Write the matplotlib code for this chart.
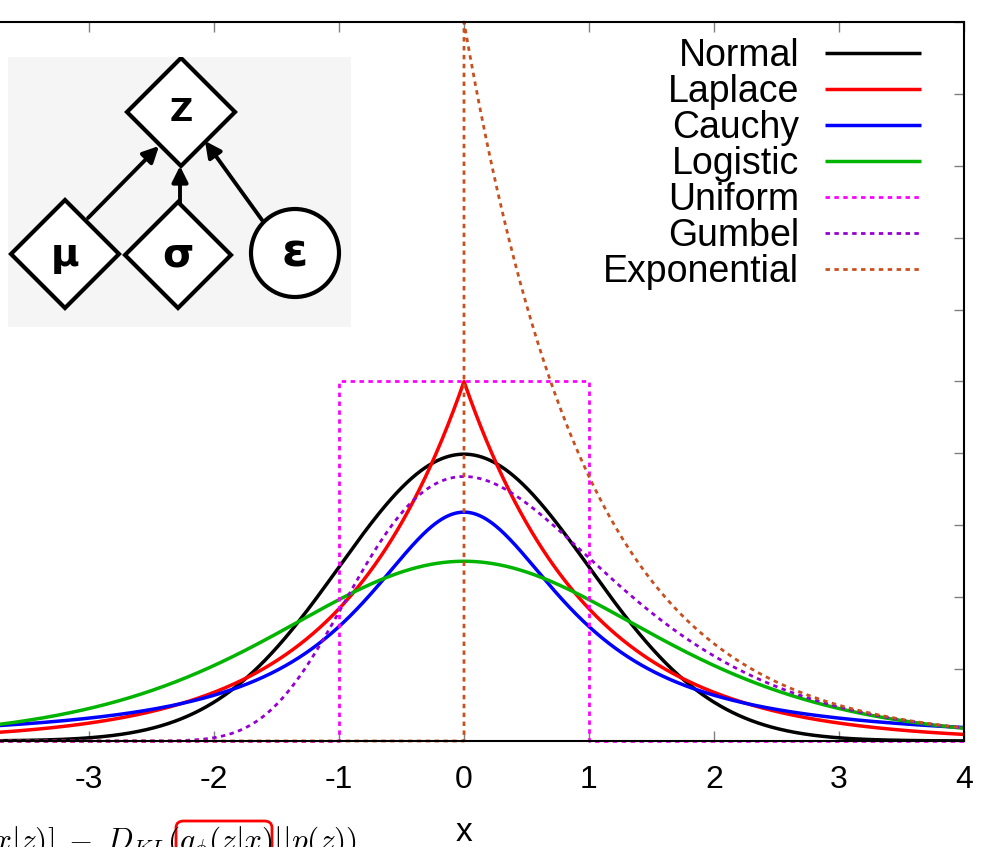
import numpy as np
import matplotlib
matplotlib.use("Agg")
import matplotlib.pyplot as plt
from matplotlib.patches import Polygon, Circle, FancyBboxPatch, FancyArrowPatch

plt.rcParams['font.family'] = ['Liberation Sans', 'DejaVu Sans']
plt.rcParams['axes.unicode_minus'] = False

# standard location/scale densities, all with location 0 and scale 1
names = ['Normal', 'Laplace', 'Cauchy', 'Logistic', 'Uniform', 'Gumbel', 'Exponential']
colors = ['black', '#ff0000', '#0000ff', '#00b400', '#ff00ff', '#9400d3', '#c8501e']
dashed = [False, False, False, False, True, True, True]

loc = 0.0
scale = 1.0
x_ticks = [-3, -2, -1, 0, 1, 2, 3, 4]
y_ticks = [0.0, 0.1, 0.2, 0.3, 0.4, 0.5, 0.6, 0.7, 0.8, 0.9, 1.0]

# uniform on [-1, 1]
unif_x = [-4, -1, -1, 1, 1, 4]
unif_y = [0, 0, 0.5, 0.5, 0, 0]

x = np.linspace(-4, 4, 1601)
z = (x - loc) / scale
pdfs = {
    'Normal': np.exp(-z**2 / 2) / np.sqrt(2 * np.pi),
    'Laplace': 0.5 * np.exp(-np.abs(z)),
    'Cauchy': 1.0 / (np.pi * (1 + z**2)),
    'Logistic': np.exp(-z) / (1 + np.exp(-z))**2,
    'Gumbel': np.exp(-(z + np.exp(-z))),
}
# exponential has a jump at 0, so repeat that point
xe = np.concatenate([x[x < 0], [0.0], x[x >= 0]])
ye = np.concatenate([np.zeros((x < 0).sum()), [0.0], np.exp(-x[x >= 0])])

W, H = 981, 847
fig = plt.figure(figsize=(W / 100, H / 100), dpi=100)

# main plot, x from -4..4 runs partly off the left edge
left_px, right_px, top_px, bot_px = -36, 964, 22, 741
ax = fig.add_axes([left_px / W, (H - bot_px) / H,
                   (right_px - left_px) / W, (bot_px - top_px) / H])

for name, c, d in zip(names, colors, dashed):
    if name == 'Uniform':
        xs, ys = unif_x, unif_y
    elif name == 'Exponential':
        xs, ys = xe, ye
    else:
        xs, ys = x, pdfs[name]
    if d:
        ax.plot(xs, ys, color=c, lw=2.0, dashes=(1.6, 1.6), label=name, clip_on=False)
    else:
        ax.plot(xs, ys, color=c, lw=2.5, label=name, solid_capstyle='butt')

ax.set_xlim(-4, 4)
ax.set_ylim(0, 1)
ax.set_xticks(x_ticks)
ax.set_yticks(y_ticks)
ax.tick_params(direction='in', length=7, width=1, color='#808080',
               top=True, right=True, labelsize=23, pad=17)
ax.tick_params(axis='y', labelleft=False)
for s in ax.spines.values():
    s.set_linewidth(1.5)
ax.set_xlabel('x', fontsize=24, labelpad=16)

leg = ax.legend(loc='upper right', bbox_to_anchor=(921 / W, 1 - 38 / H),
                bbox_transform=fig.transFigure, frameon=False, markerfirst=False,
                fontsize=27, handlelength=2.55, handletextpad=0.7,
                labelspacing=0.0, borderpad=0, borderaxespad=0)

# graphical model inset: z = mu + sigma * eps
ix0, ix1, iy0, iy1 = 8, 351, 57, 327
ins = fig.add_axes([ix0 / W, (H - iy1) / H, (ix1 - ix0) / W, (iy1 - iy0) / H])
ins.set_xlim(ix0, ix1)
ins.set_ylim(iy1, iy0)
ins.set_facecolor('#f5f5f5')
ins.set_xticks([])
ins.set_yticks([])
for s in ins.spines.values():
    s.set_visible(False)

node_labels = ['Z', 'μ', 'σ', 'ε']
node_x = [181, 65, 178, 295]
node_y = [112, 254, 255, 253]
node_shape = ['diamond', 'diamond', 'diamond', 'circle']
node_size = [54, 54, 53, 44]
node_font = [23, 28, 29, 34]

for lab, cx, cy, shp, r, fs in zip(node_labels, node_x, node_y, node_shape,
                                    node_size, node_font):
    if shp == 'diamond':
        p = Polygon([(cx, cy - r), (cx + r, cy), (cx, cy + r), (cx - r, cy)],
                    closed=True, fc='white', ec='black', lw=3, joinstyle='miter')
    else:
        p = Circle((cx, cy), r, fc='white', ec='black', lw=3)
    ins.add_patch(p)
    ins.text(cx, cy + 1, lab, ha='center', va='center', fontsize=fs,
             fontweight='bold', family=['DejaVu Sans'])

# arrows from parents into Z
edges_from = [(88, 218), (180, 203), (262, 220)]
edges_to = [(159, 146), (180, 166), (205, 141)]
for a, b in zip(edges_from, edges_to):
    ins.add_patch(FancyArrowPatch(a, b, arrowstyle='-|>', mutation_scale=24,
                                  lw=2.8, color='black', shrinkA=0, shrinkB=0))

# ELBO text along the bottom edge
fig.text(357 / W, -4 / H,
         r'$\mathbb{E}[\log p(x|z)]\;-\;D_{KL}(q_\phi(z|x)||p(z))$',
         ha='right', va='baseline', fontsize=22.5, math_fontfamily='cm')
fig.patches.append(FancyBboxPatch((176 / W, -20 / H), 96 / W, 46 / H,
                                  boxstyle='round,pad=0,rounding_size=0.008',
                                  transform=fig.transFigure, fc='none',
                                  ec='#ff0000', lw=2, figure=fig))

fig.savefig('out.png', dpi=100)
